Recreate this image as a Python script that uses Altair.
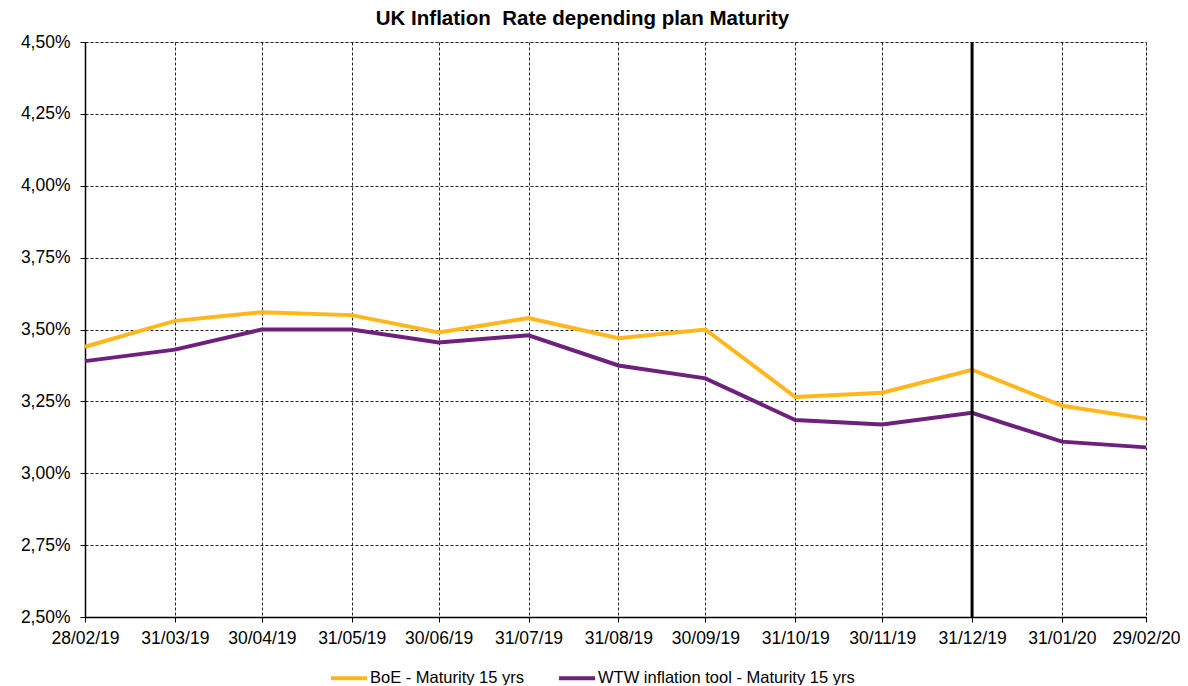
import altair as alt
import pandas as pd

dates = ["2019-02-28", "2019-03-31", "2019-04-30", "2019-05-31", "2019-06-30",
         "2019-07-31", "2019-08-31", "2019-09-30", "2019-10-31", "2019-11-30",
         "2019-12-31", "2020-01-31", "2020-02-29"]
boe = [3.44, 3.53, 3.56, 3.55, 3.49, 3.54, 3.47, 3.50, 3.265, 3.28, 3.36, 3.235, 3.19]
wtw = [3.39, 3.43, 3.50, 3.50, 3.455, 3.48, 3.375, 3.33, 3.185, 3.17, 3.21, 3.11, 3.09]
series_names = ["BoE - Maturity 15 yrs", "WTW inflation tool - Maturity 15 yrs"]
series_colors = ["#FFB71C", "#6E207D"]
y_ticks = [2.50, 2.75, 3.00, 3.25, 3.50, 3.75, 4.00, 4.25, 4.50]
marker_date = ["2019-12-31"]
title_text = "UK Inflation\u00a0 Rate depending plan Maturity"

rows = []
for d, b, w in zip(dates, boe, wtw):
    rows.append({"date": d, "series": series_names[0], "value": b})
    rows.append({"date": d, "series": series_names[1], "value": w})
df = pd.DataFrame(rows)
marker_df = pd.DataFrame({"date": marker_date})


def dt(s):
    y, m, d = (int(p) for p in s.split("-"))
    return alt.DateTime(year=y, month=m, date=d, utc=True)


font = "Liberation Sans"

x_enc = alt.X(
    "date:T",
    scale=alt.Scale(type="utc", domain=[dt(dates[0]), dt(dates[-1])]),
    axis=alt.Axis(
        values=[dt(d) for d in dates],
        format="%d/%m/%y",
        title=None,
        labelFont=font, labelFontSize=17.5, labelColor="#000",
        labelPadding=7, labelOverlap=False, labelFlush=False,
        tickColor="#000", tickSize=5, tickWidth=1,
        domainColor="#000", domainWidth=1.5,
        grid=True, gridColor="#222", gridDash=[3, 2], gridWidth=1,
    ),
)

y_enc = alt.Y(
    "value:Q",
    scale=alt.Scale(domain=[2.5, 4.5], nice=False, zero=False),
    axis=alt.Axis(
        values=y_ticks,
        labelExpr="replace(format(datum.value, '.2f'), '.', ',') + '%'",
        title=None,
        labelFont=font, labelFontSize=17.5, labelColor="#000",
        labelPadding=10,
        tickColor="#000", tickSize=5, tickWidth=1,
        domainColor="#000", domainWidth=1.5,
        grid=True, gridColor="#222", gridDash=[3, 2], gridWidth=1,
    ),
)

lines = alt.Chart(df).mark_line(strokeWidth=4).encode(
    x=x_enc,
    y=y_enc,
    color=alt.Color(
        "series:N",
        scale=alt.Scale(domain=series_names, range=series_colors),
        legend=alt.Legend(
            title=None, orient="none", direction="horizontal",
            legendX=244, legendY=616, padding=0,
            symbolType="stroke", symbolSize=1296, symbolStrokeWidth=4,
            labelFont=font, labelFontSize=16.5, labelColor="#000",
            labelOffset=1, columnPadding=26, labelLimit=0,
        ),
    ),
)

rule = alt.Chart(marker_df).mark_rule(color="#000", strokeWidth=3).encode(
    x=alt.X("date:T")
)

chart = alt.layer(lines, rule).properties(
    width=1061,
    height=575,
    padding={"left": 77, "top": 34, "right": 34, "bottom": 68},
    autosize=alt.AutoSizeParams(type="none"),
    title=alt.TitleParams(
        title_text, font=font, fontSize=20.5, fontWeight="bold", color="#000",
        anchor="middle", dx=-33, offset=4,
    ),
).configure_view(stroke="#999", strokeWidth=2).configure(background="white")

chart.save("out.html", embed_options={"renderer": "svg", "actions": False})
